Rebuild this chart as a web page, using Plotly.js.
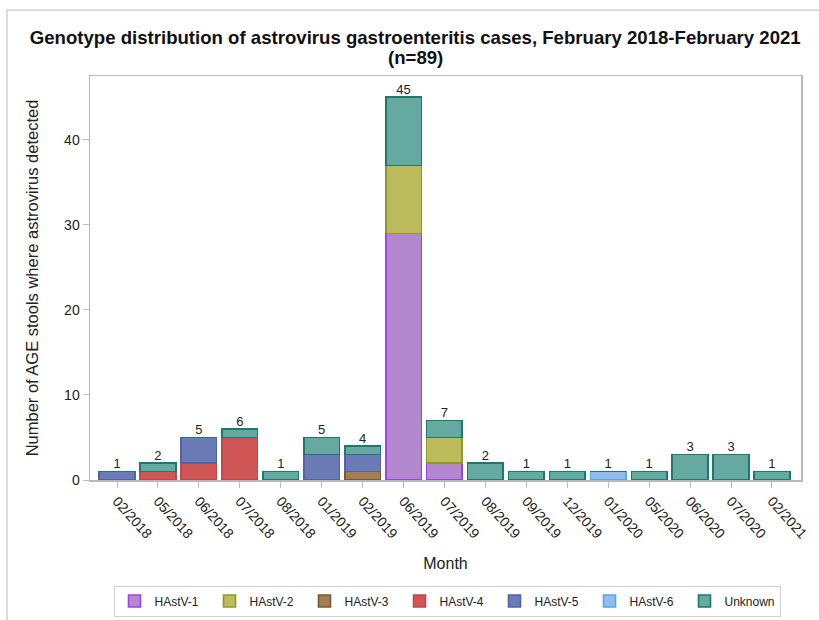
<!DOCTYPE html>
<html>
<head>
<meta charset="utf-8">
<script src="https://cdn.plot.ly/plotly-3.0.1.min.js"></script>
<style>html,body{margin:0;padding:0;background:#fff;}#chart{width:819px;height:620px;}</style>
</head>
<body>
<div id="chart"></div>
<script>
const months = ["02/2018","05/2018","06/2018","07/2018","08/2018","01/2019","02/2019","06/2019","07/2019","08/2019","09/2019","12/2019","01/2020","05/2020","06/2020","07/2020","02/2021"];
const hastv1 = [0,0,0,0,0,0,0,29,2,0,0,0,0,0,0,0,0];
const hastv2 = [0,0,0,0,0,0,0,8,3,0,0,0,0,0,0,0,0];
const hastv3 = [0,0,0,0,0,0,1,0,0,0,0,0,0,0,0,0,0];
const hastv4 = [0,1,2,5,0,0,0,0,0,0,0,0,0,0,0,0,0];
const hastv5 = [1,0,3,0,0,3,2,0,0,0,0,0,0,0,0,0,0];
const hastv6 = [0,0,0,0,0,0,0,0,0,0,0,0,1,0,0,0,0];
const unknown = [0,1,0,1,1,2,1,8,2,2,1,1,0,1,3,3,1];
const seriesNames = ["HAstV-1","HAstV-2","HAstV-3","HAstV-4","HAstV-5","HAstV-6","Unknown"];

const seriesData = [hastv1,hastv2,hastv3,hastv4,hastv5,hastv6,unknown];
const fills = ["#b388cf","#bcbc5c","#a57d52","#d05656","#6c7ab8","#94bce6","#66a9a0"];
const lines = ["#a040e8","#8a9a2a","#7a5a30","#c04848","#5262a4","#4aa8ff","#1a7a6e"];
const SANS = "Liberation Sans, Arial, sans-serif";

const traces = seriesData.map((vals, i) => ({
  type: "bar",
  name: seriesNames[i],
  x: months,
  y: vals,
  width: 0.87,
  marker: {color: fills[i], line: {color: lines[i], width: 1.6}},
  hoverinfo: "x+y+name"
}));

const totals = months.map((m, j) => seriesData.reduce((s, arr) => s + arr[j], 0));
traces.push({
  type: "scatter",
  mode: "text",
  x: months,
  y: totals,
  text: totals.map(String),
  textposition: "top center",
  textfont: {family: SANS, size: 13, color: "#222"},
  showlegend: false,
  hoverinfo: "skip",
  cliponaxis: false
});

const layout = {
  width: 819, height: 620,
  barmode: "stack",
  paper_bgcolor: "#fff",
  plot_bgcolor: "#fff",
  margin: {l: 90, r: 18, t: 76, b: 140},
  font: {family: SANS, color: "#222"},
  title: {
    text: "<b>Genotype distribution of astrovirus gastroenteritis cases, February 2018-February 2021</b>",
    x: 0.507, xref: "container", xanchor: "center",
    y: 1 - 37/620, yref: "container", yanchor: "middle",
    font: {size: 18.6, color: "#111"}
  },
  annotations: [{
    text: "<b>(n=89)</b>",
    xref: "paper", yref: "paper",
    x: (415-90)/711, y: (480-58)/404,
    xanchor: "center", yanchor: "middle",
    showarrow: false,
    font: {family: SANS, size: 18.6, color: "#111"}
  }],
  xaxis: {
    type: "category",
    range: [-0.66, 16.71],
    tickangle: 48,
    automargin: false,
    ticks: "outside", ticklen: 6, tickcolor: "#bbb",
    tickfont: {family: SANS, size: 14, color: "#222"},
    showline: true, linecolor: "#b8b8b8", linewidth: 1.5, mirror: true,
    showgrid: false, zeroline: false,
    title: {text: "Month", font: {size: 16, color: "#222"}, standoff: 17}
  },
  yaxis: {
    range: [0, 47.5],
    tickvals: [0,10,20,30,40],
    automargin: false,
    ticks: "outside", ticklen: 6, tickcolor: "#bbb",
    tickfont: {family: SANS, size: 14, color: "#222"},
    showline: true, linecolor: "#b8b8b8", linewidth: 1.5, mirror: true,
    showgrid: false, zeroline: false,
    title: {text: "Number of AGE stools where astrovirus detected", font: {size: 16.5, color: "#222"}, standoff: 21}
  },
  legend: {
    orientation: "h",
    xref: "container", yref: "container",
    x: 447/819, xanchor: "center",
    y: 19/620, yanchor: "middle",
    bordercolor: "#d0d0d0", borderwidth: 1,
    font: {family: SANS, size: 12, color: "#222"},
    traceorder: "normal",
    entrywidth: 50, entrywidthmode: "pixels",
    itemwidth: 30,
    itemclick: false
  },
  shapes: [{
    type: "rect", xref: "paper", yref: "paper",
    x0: (7-90)/711, x1: 1.2, y0: -0.6, y1: (480-10)/404,
    line: {color: "#d0d0d0", width: 1.5}, layer: "below"
  }],
  showlegend: true
};

Plotly.newPlot("chart", traces, layout, {displayModeBar: false, staticPlot: true});
</script>
</body>
</html>
